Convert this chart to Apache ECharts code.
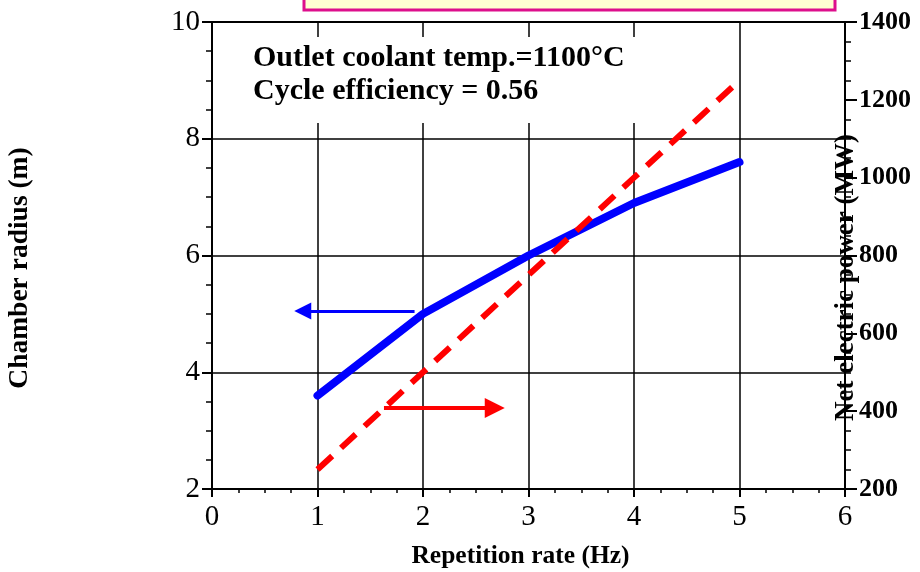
<!DOCTYPE html>
<html>
<head>
<meta charset="utf-8">
<script src="https://cdn.jsdelivr.net/npm/echarts@6/dist/echarts.min.js"></script>
<style>html,body{margin:0;padding:0;background:#fff}#c{width:920px;height:572px}</style>
</head>
<body>
<div id="c"></div>
<script>
var repRate = [1, 2, 3, 4, 5];
var chamberRadius = [3.6, 5.0, 6.0, 6.9, 7.6];
var netPower = [250, 500, 750, 1000, 1250];
var xTicks = [0, 1, 2, 3, 4, 5, 6];
var leftTicks = [2, 4, 6, 8, 10];
var rightTicks = [200, 400, 600, 800, 1000, 1200, 1400];
var blueArrow = [[1.92, 5.05], [0.86, 5.05]];
var redArrow = [[1.63, 408], [2.68, 408]];
var noteLines = ['Outlet coolant temp.=1100°C', 'Cycle efficiency = 0.56'];

var F = '"Liberation Serif", "Times New Roman", serif';
var plain = function (v) { return String(v); };
var chart = echarts.init(document.getElementById('c'), null, {renderer: 'canvas'});
chart.setOption({
  animation: false,
  backgroundColor: '#fff',
  grid: {left: 212, right: 75, top: 22, bottom: 83, containLabel: false, outerBoundsMode: 'none'},
  xAxis: [{
    type: 'value', position: 'bottom', min: xTicks[0], max: xTicks[xTicks.length - 1], interval: 1,
    name: 'Repetition rate (Hz)', nameLocation: 'middle', nameGap: 54, nameMoveOverlap: false,
    nameTextStyle: {fontFamily: F, fontWeight: 'bold', fontSize: 25.5, color: '#000', padding: [0, 16, 0, 0]},
    axisLine: {show: true, onZero: false, lineStyle: {color: '#000', width: 2}},
    axisTick: {show: true, inside: false, length: 8, lineStyle: {color: '#000', width: 2}},
    minorTick: {show: true, splitNumber: 4, length: 4, lineStyle: {color: '#000', width: 1.5}},
    axisLabel: {fontFamily: F, fontSize: 29, color: '#000', margin: 14, formatter: plain},
    splitLine: {show: true, lineStyle: {color: '#000', width: 1.5}}
  }, {
    type: 'value', position: 'top', min: 0, max: 6, interval: 1,
    axisLine: {show: true, onZero: false, lineStyle: {color: '#000', width: 2}},
    axisTick: {show: false}, axisLabel: {show: false}, splitLine: {show: false}
  }],
  yAxis: [{
    type: 'value', position: 'left', min: leftTicks[0], max: leftTicks[leftTicks.length - 1], interval: 2,
    name: 'Chamber radius (m)', nameLocation: 'middle', nameGap: 178, nameMoveOverlap: false,
    nameTextStyle: {fontFamily: F, fontWeight: 'bold', fontSize: 27.5, color: '#000', padding: [0, 25, 0, 0]},
    axisLine: {show: true, onZero: false, lineStyle: {color: '#000', width: 2}},
    axisTick: {show: true, inside: false, length: 10, lineStyle: {color: '#000', width: 2}},
    minorTick: {show: true, splitNumber: 4, length: 6, lineStyle: {color: '#000', width: 1.5}},
    axisLabel: {fontFamily: F, fontSize: 29, color: '#000', margin: 12, formatter: plain},
    splitLine: {show: true, lineStyle: {color: '#000', width: 1.5}}
  }, {
    type: 'value', position: 'right', min: rightTicks[0], max: rightTicks[rightTicks.length - 1], interval: 200,
    name: 'Net electric power (MW)', nameLocation: 'middle', nameGap: -12, nameMoveOverlap: false,
    nameTextStyle: {fontFamily: F, fontWeight: 'bold', fontSize: 27, color: '#000', padding: [0, 44, 0, 0]},
    axisLine: {show: true, onZero: false, lineStyle: {color: '#000', width: 2}},
    axisTick: {show: true, inside: false, length: 12, lineStyle: {color: '#000', width: 2}},
    minorTick: {show: true, splitNumber: 4, length: 6, lineStyle: {color: '#000', width: 1.5}},
    axisLabel: {fontFamily: F, fontWeight: 'bold', fontSize: 26, color: '#000', margin: 14, formatter: plain},
    splitLine: {show: false}
  }],
  graphic: [
    {type: 'rect', z: 1, shape: {x: 304, y: -6, width: 531, height: 16}, style: {fill: '#FFFFD2', stroke: '#DD0F8C', lineWidth: 3}},
    {type: 'rect', z: 1, shape: {x: 240, y: 37, width: 420, height: 86}, style: {fill: '#fff'}},
    {type: 'text', z: 3, x: 253, y: 58, style: {text: noteLines[0], font: 'bold 30px ' + F, fill: '#000', textVerticalAlign: 'middle'}},
    {type: 'text', z: 3, x: 253, y: 91, style: {text: noteLines[1], font: 'bold 30px ' + F, fill: '#000', textVerticalAlign: 'middle'}}
  ],
  series: [{
    type: 'line', xAxisIndex: 0, yAxisIndex: 0, z: 4,
    data: repRate.map(function (x, i) { return [x, chamberRadius[i]]; }),
    showSymbol: false, symbol: 'none',
    lineStyle: {color: '#0000FF', width: 8, cap: 'round', join: 'round'},
    markLine: {
      silent: true, symbol: ['none', 'triangle'], symbolSize: 17, label: {show: false},
      lineStyle: {color: '#0000FF', width: 3, type: 'solid'},
      data: [[{coord: blueArrow[0]}, {coord: blueArrow[1]}]]
    }
  }, {
    type: 'line', xAxisIndex: 0, yAxisIndex: 1, z: 5,
    data: repRate.map(function (x, i) { return [x, netPower[i]]; }),
    showSymbol: false, symbol: 'none',
    lineStyle: {color: '#FF0000', width: 6, type: [20, 12], cap: 'butt'},
    markLine: {
      silent: true, symbol: ['none', 'triangle'], symbolSize: 20, label: {show: false},
      lineStyle: {color: '#FF0000', width: 4, type: 'solid'},
      data: [[{coord: redArrow[0]}, {coord: redArrow[1]}]]
    }
  }]
});
</script>
</body>
</html>
